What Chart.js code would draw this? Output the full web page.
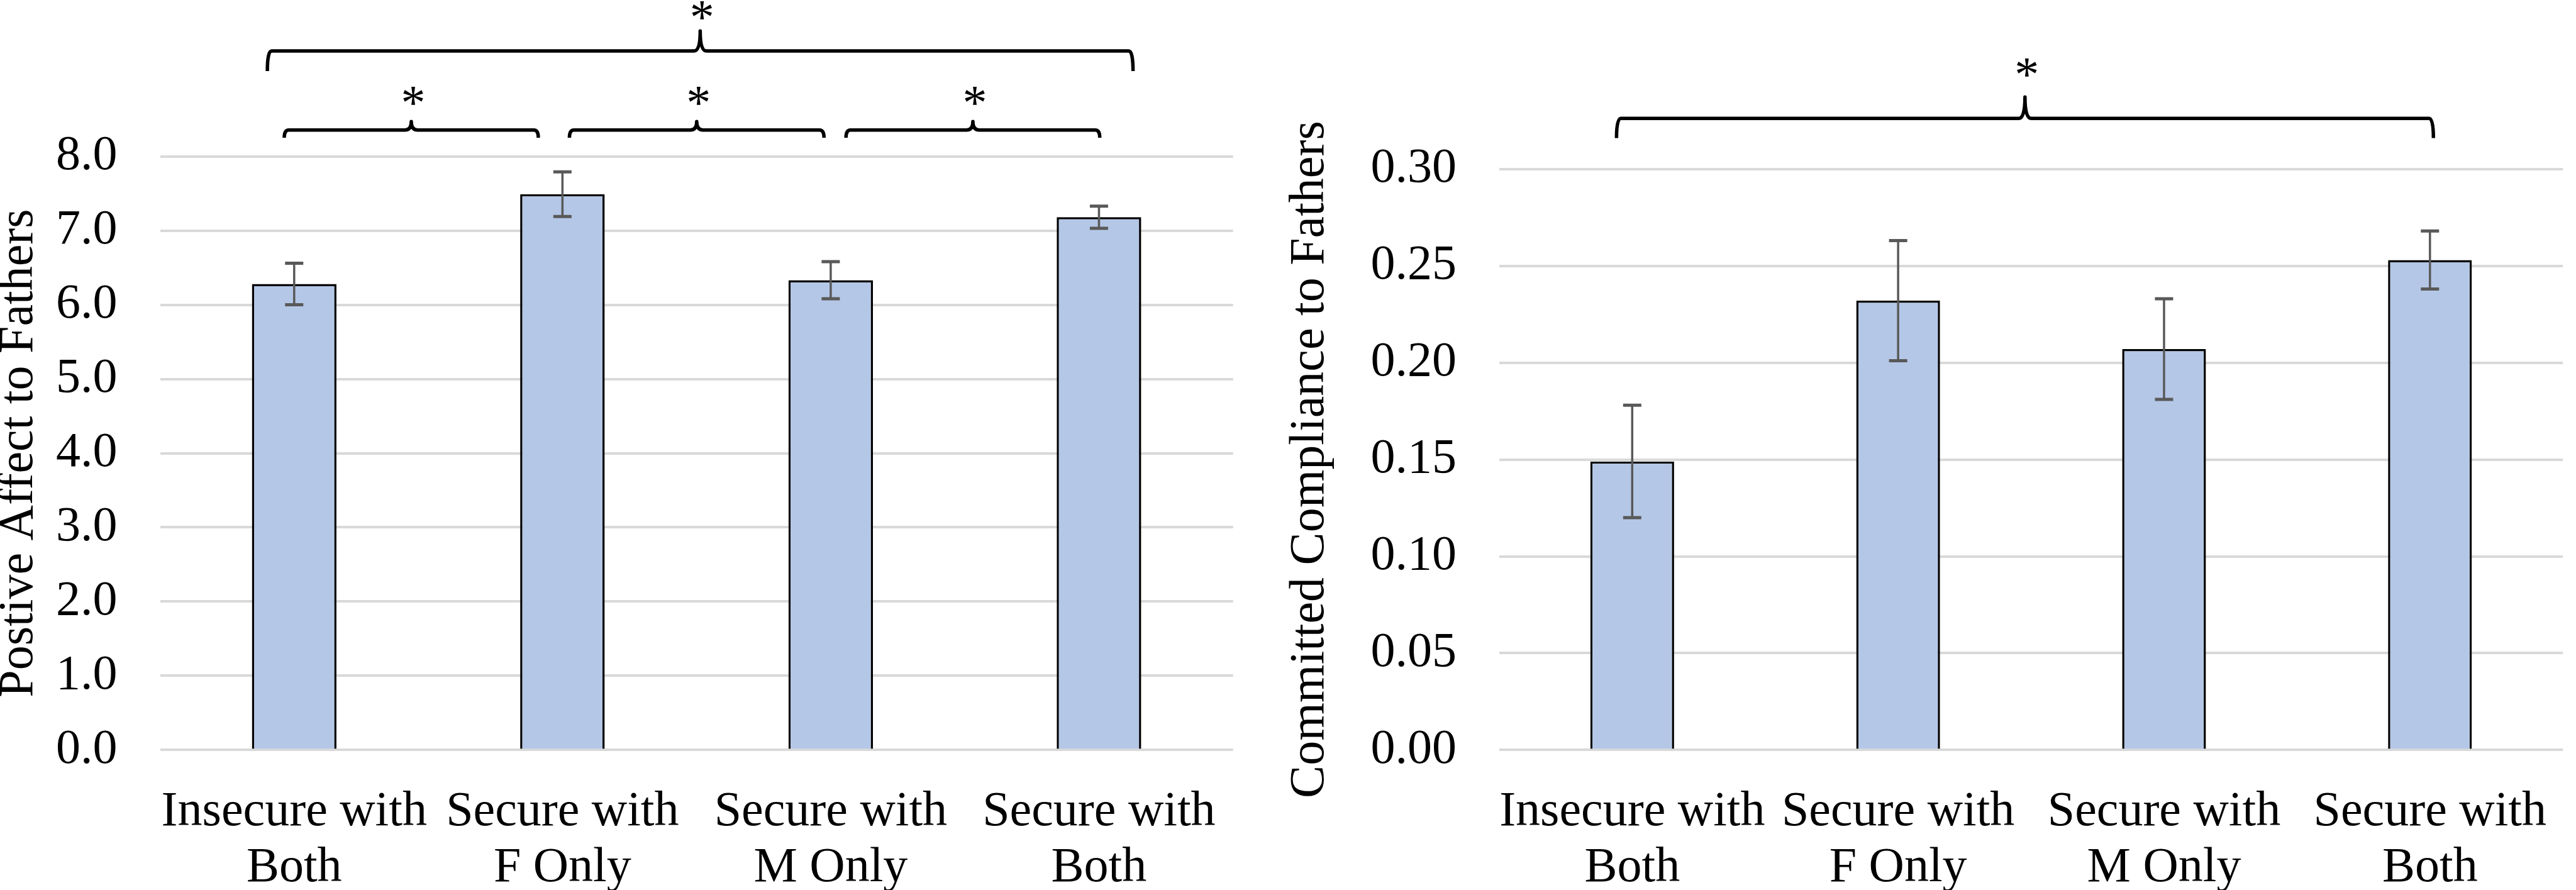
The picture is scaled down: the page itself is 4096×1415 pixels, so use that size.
<!DOCTYPE html>
<html>
<head>
<meta charset="utf-8">
<title>Positive affect and committed compliance to fathers</title>
<script src="https://cdn.jsdelivr.net/npm/chart.js@4.4.1/dist/chart.umd.min.js"></script>
<style>
  html, body { margin: 0; padding: 0; background: #fff; overflow: hidden; }
  #left { position: absolute; left: 0; top: 0; }
  #right { position: absolute; left: 2000px; top: 0; }
</style>
</head>
<body>
<canvas id="left" width="2000" height="1415"></canvas>
<canvas id="right" width="2096" height="1415"></canvas>
<script>
// data
const groups = [["Insecure with", "Both"], ["Secure with", "F Only"], ["Secure with", "M Only"], ["Secure with", "Both"]];
const affect = [6.28, 7.49, 6.33, 7.18];
const affectErr = [0.28, 0.30, 0.25, 0.15];
const compliance = [0.149, 0.232, 0.207, 0.253];
const complianceErr = [0.029, 0.031, 0.026, 0.015];

const SERIF = '"Liberation Serif", "Times New Roman", serif';
const FONT = 78;

// error bars on top of each bar
const errorBars = {
    id: "errorBars",
    afterDatasetsDraw(chart, args, opts) {
        const ctx = chart.ctx;
        const y = chart.scales.y;
        const values = chart.data.datasets[0].data;
        ctx.save();
        ctx.strokeStyle = "#595959";
        chart.getDatasetMeta(0).data.forEach((bar, i) => {
            const top = y.getPixelForValue(values[i] + opts.errors[i]);
            const bot = y.getPixelForValue(values[i] - opts.errors[i]);
            ctx.lineWidth = 3.5;
            ctx.beginPath();
            ctx.moveTo(bar.x, top);
            ctx.lineTo(bar.x, bot);
            ctx.stroke();
            ctx.lineWidth = 5;
            ctx.beginPath();
            ctx.moveTo(bar.x - 14.5, top);
            ctx.lineTo(bar.x + 14.5, top);
            ctx.moveTo(bar.x - 14.5, bot);
            ctx.lineTo(bar.x + 14.5, bot);
            ctx.stroke();
        });
        ctx.restore();
    }
};

// curly braces with a star over significant pairs
const brackets = {
    id: "brackets",
    afterDraw(chart, args, opts) {
        const ctx = chart.ctx;
        const x = chart.scales.x, y = chart.scales.y;
        ctx.save();
        ctx.strokeStyle = "#000";
        ctx.fillStyle = "#000";
        ctx.lineWidth = 5.5;
        ctx.lineJoin = "round";
        ctx.font = FONT + "px " + SERIF;
        ctx.textAlign = "center";
        ctx.textBaseline = "alphabetic";
        opts.items.forEach(b => {
            const lv = opts.levels[b.level];
            const x1 = x.getPixelForValue(b.from);
            const x2 = x.getPixelForValue(b.to);
            const xm = (x1 + x2) / 2;
            const yLine = y.getPixelForValue(lv.line);
            const yTip = y.getPixelForValue(lv.tip);
            const yPeak = y.getPixelForValue(lv.peak);
            const r = 7, c = 10;
            ctx.beginPath();
            ctx.moveTo(x1, yTip);
            ctx.quadraticCurveTo(x1, yLine, x1 + r, yLine);
            ctx.lineTo(xm - c, yLine);
            ctx.quadraticCurveTo(xm, yLine, xm, yPeak);
            ctx.quadraticCurveTo(xm, yLine, xm + c, yLine);
            ctx.lineTo(x2 - r, yLine);
            ctx.quadraticCurveTo(x2, yLine, x2, yTip);
            ctx.stroke();
            ctx.fillText("*", xm + 3, y.getPixelForValue(lv.star) + 36);
        });
        ctx.restore();
    }
};

function makeChart(id, values, errors, o) {
    return new Chart(document.getElementById(id), {
        type: "bar",
        data: {
            labels: groups,
            datasets: [{
                data: values,
                backgroundColor: "#B4C7E7",
                borderColor: "#000000",
                borderWidth: 3.5,
                categoryPercentage: 1,
                barPercentage: 0.315
            }]
        },
        options: {
            responsive: false,
            devicePixelRatio: 1,
            animation: false,
            events: [],
            layout: { padding: { top: o.top, right: o.right, bottom: 0, left: 0 } },
            plugins: {
                legend: { display: false },
                tooltip: { enabled: false },
                errorBars: { errors: errors },
                brackets: { items: o.brackets, levels: o.levels }
            },
            scales: {
                x: {
                    grid: { display: false },
                    border: { display: false },
                    ticks: {
                        color: "#000",
                        padding: 46.9,
                        maxRotation: 0,
                        autoSkip: false,
                        font: { family: SERIF, size: FONT, lineHeight: 1.14 }
                    },
                    afterFit: s => { s.height = 1415 - 1192.4; }
                },
                y: {
                    min: 0,
                    max: o.max,
                    grid: { color: "#D9D9D9", lineWidth: 4, drawTicks: false },
                    border: { display: false },
                    ticks: {
                        stepSize: o.step,
                        color: "#000",
                        padding: 68,
                        font: { family: SERIF, size: FONT },
                        callback: v => v.toFixed(o.digits)
                    },
                    title: {
                        display: true,
                        text: o.title,
                        color: "#000",
                        padding: { top: o.titlePad, bottom: 0 },
                        font: { family: SERIF, size: FONT, lineHeight: o.titleLH }
                    },
                    afterFit: s => { s.width = o.left; }
                }
            }
        },
        plugins: [errorBars, brackets]
    });
}

makeChart("left", affect, affectErr, {
    title: "Postive Affect to Fathers",
    max: 8, step: 1, digits: 1,
    top: 248.6, right: 2000 - 1960.7, left: 254.5,
    titlePad: 0, titleLH: 0.78,
    levels: {
        low: { line: 8.355, tip: 8.25, peak: 8.47, star: 8.81 },
        high: { line: 9.42, tip: 9.15, peak: 9.69, star: 9.967 }
    },
    brackets: [
        { from: -0.037, to: 0.91, level: "low" },
        { from: 1.026, to: 1.975, level: "low" },
        { from: 2.057, to: 3.003, level: "low" },
        { from: -0.1, to: 3.127, level: "high" }
    ]
});

makeChart("right", compliance, complianceErr, {
    title: "Committed Compliance to Fathers",
    max: 0.3, step: 0.05, digits: 2,
    top: 268.7, right: 1, left: 383.9,
    titlePad: 45, titleLH: 1,
    levels: {
        high: { line: 0.3261, tip: 0.316, peak: 0.3372, star: 0.3521 }
    },
    brackets: [
        { from: -0.059, to: 3.013, level: "high" }
    ]
});
</script>
</body>
</html>
